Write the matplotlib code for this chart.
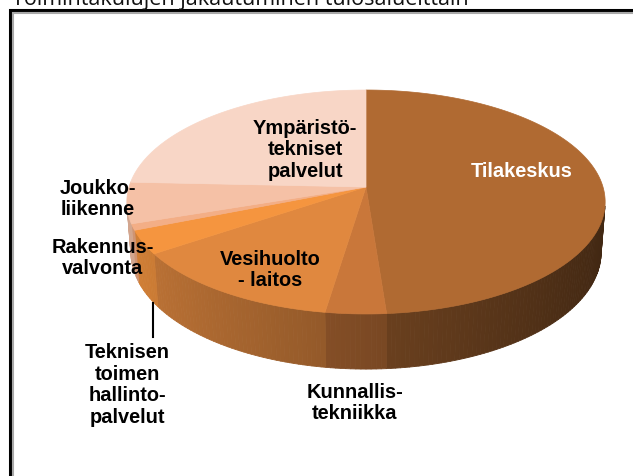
import numpy as np
import matplotlib.pyplot as plt
from matplotlib.patches import Polygon
from matplotlib.collections import PolyCollection
from matplotlib import colors as mcolors

# toimintakulut tulosalueittain, osuudet (%) luettu kuvasta
alueet = ['Tilakeskus', 'Kunnallis-\ntekniikka', 'Vesihuolto\n- laitos', 'Rakennus-\nvalvonta',
          'Teknisen\ntoimen\nhallinto-\npalvelut', 'Joukko-\nliikenne', 'Ympäristö-\ntekniset\npalvelut']
osuudet = [48.8, 3.6, 13.1, 3.4, 0.9, 5.9, 24.3]
varit = ['#B06A32', '#C9773A', '#E0883F', '#F5953F', '#F3AE86', '#F5C1A6', '#F8D6C6']

# label positions in pixel coords of the picture
label_pos = [(522, 172), (355, 403), (270, 270), (103, 258), (127, 385), (98, 199), (305, 150)]
label_col = ['white', 'black', 'black', 'black', 'black', 'black', 'black']

W, H = 633, 477
fig = plt.figure(figsize=(W / 100, H / 100), dpi=100)
ax = fig.add_axes([0, 0, 1, 1])
ax.set_xlim(0, W)
ax.set_ylim(H, 0)
ax.axis('off')

# simple perspective camera for a tilted 3d pie
cx, vy, f, D = 366.0, 188.0, 1569.0, 6.62
sa, ca = 0.464, 0.886
h = 0.242


def proj(th, z=0.0):
    x, y = np.cos(th), np.sin(th)
    up = y * sa + z * ca
    depth = D + y * ca - z * sa
    return cx + f * x / depth, vy - f * up / depth


# slice angles, clockwise from 12 o'clock
cum = np.concatenate([[0], np.cumsum(osuudet)]) / np.sum(osuudet)
start = np.pi / 2 - cum[:-1] * 2 * np.pi
end = np.pi / 2 - cum[1:] * 2 * np.pi

# side wall (only the part facing the camera)
lim = np.arcsin(1 / (D * ca))
polys, cols = [], []
for i in range(len(osuudet)):
    a0, a1 = end[i], start[i]
    for k in (-2 * np.pi, 0):
        lo = max(a0 + k, -np.pi + lim)
        hi = min(a1 + k, -lim)
        if hi <= lo:
            continue
        n = max(2, int(np.degrees(hi - lo)) + 1)
        ts = np.linspace(lo, hi, n)
        base = np.array(mcolors.to_rgb(varit[i]))
        for t0, t1 in zip(ts[:-1], ts[1:]):
            p = [proj(t0), proj(t1), proj(t1, -h), proj(t0, -h)]
            tm = (t0 + t1) / 2
            fac = 0.62 - 0.25 * np.cos(tm)
            polys.append(p)
            cols.append(np.clip(base * fac, 0, 1))
ax.add_collection(PolyCollection(polys, facecolors=cols, edgecolors=cols, linewidths=0.6))

# top face
for i in range(len(osuudet)):
    n = max(2, int(abs(np.degrees(start[i] - end[i]))) + 2)
    ts = np.linspace(start[i], end[i], n)
    pts = [(cx, vy)] + [proj(t) for t in ts]
    ax.add_patch(Polygon(pts, closed=True, facecolor=varit[i], edgecolor=varit[i], linewidth=0.5))

# labels
for txt, (lx, ly), c in zip(alueet, label_pos, label_col):
    ax.text(lx, ly, txt, ha='center', va='center', color=c, fontsize=14.4,
            fontweight='bold', family='Liberation Sans', linespacing=1.17)

# leader line for the tiny slice
ax.plot([153, 153], [304, 338], color='black', lw=1.5)

# chart frame, cut off on right and bottom
ax.plot([10, 10, W + 5], [H + 5, 11, 11], color='black', lw=2.2, solid_joinstyle='miter')
ax.plot([13, 13, W + 5], [H + 5, 14, 14], color='#A8A8A8', lw=1.5, solid_joinstyle='miter')

# page heading, only the lower part fits in the picture
ax.text(12, 5, 'Toimintakulujen jakautuminen tulosalueittain', ha='left', va='baseline',
        fontsize=15.5, family='Open Sans', color='#111111', clip_on=False)

fig.savefig('out.png', dpi=100)
